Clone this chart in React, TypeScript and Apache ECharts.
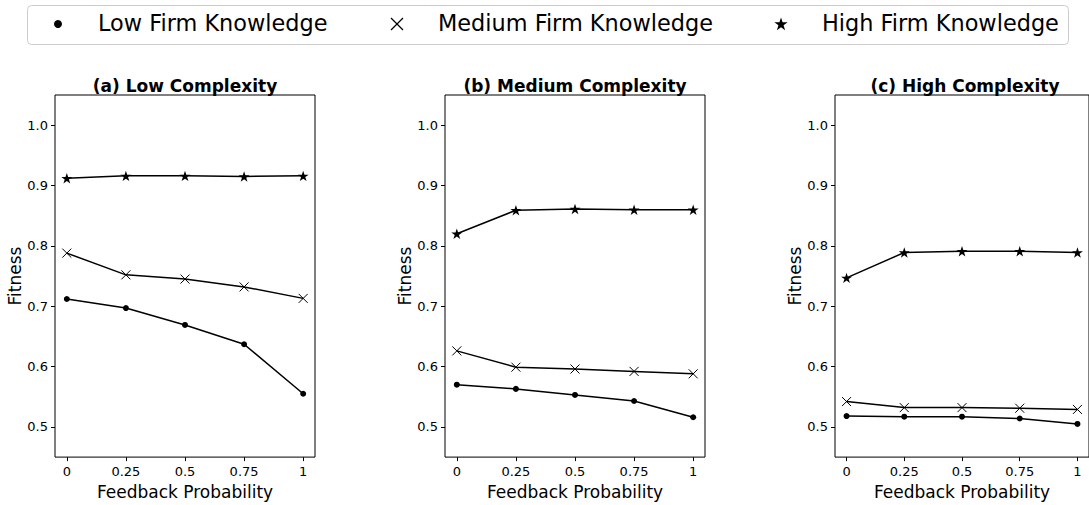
import React, { useEffect, useRef } from "react";
import * as echarts from "echarts";

const feedbackProbability = [0, 0.25, 0.5, 0.75, 1];
const xTickValues = [0, 0.25, 0.5, 0.75, 1];
const yTickValues = [0.5, 0.6, 0.7, 0.8, 0.9, 1.0];
const panelTitles = ["(a) Low Complexity", "(b) Medium Complexity", "(c) High Complexity"];
const seriesNames = ["Low Firm Knowledge", "Medium Firm Knowledge", "High Firm Knowledge"];

// (a) Low complexity
const lowCxLowKnowledge = [0.712, 0.697, 0.669, 0.637, 0.555];
const lowCxMediumKnowledge = [0.788, 0.752, 0.745, 0.732, 0.713];
const lowCxHighKnowledge = [0.912, 0.916, 0.916, 0.915, 0.916];
// (b) Medium complexity
const medCxLowKnowledge = [0.570, 0.563, 0.553, 0.543, 0.516];
const medCxMediumKnowledge = [0.626, 0.599, 0.596, 0.592, 0.588];
const medCxHighKnowledge = [0.820, 0.859, 0.861, 0.860, 0.860];
// (c) High complexity
const highCxLowKnowledge = [0.518, 0.517, 0.517, 0.514, 0.505];
const highCxMediumKnowledge = [0.542, 0.532, 0.532, 0.531, 0.529];
const highCxHighKnowledge = [0.747, 0.789, 0.791, 0.791, 0.789];

const panels = [
  [lowCxLowKnowledge, lowCxMediumKnowledge, lowCxHighKnowledge],
  [medCxLowKnowledge, medCxMediumKnowledge, medCxHighKnowledge],
  [highCxLowKnowledge, highCxMediumKnowledge, highCxHighKnowledge],
];

const FONT = "DejaVu Sans";
const STAR =
  "path://M50,0L61.23,34.55L97.55,34.55L68.17,55.9L79.39,90.45L50,69.1L20.61,90.45L31.83,55.9L2.45,34.55L38.77,34.55Z";
const CROSS = "path://M0,0L10,10M10,0L0,10";

const symbolStyles = [
  { symbol: "circle", symbolSize: 6, itemStyle: { color: "#000", borderWidth: 0 } },
  { symbol: CROSS, symbolSize: 9, itemStyle: { color: "#000", borderColor: "#000", borderWidth: 1 } },
  { symbol: STAR, symbolSize: 11, itemStyle: { color: "#000", borderWidth: 0 } },
];

const gridLefts = [55, 445, 835];
const GRID_TOP = 95;
const GRID_W = 260;
const GRID_H = 369;

function starPoints(cx: number, cy: number, R: number): number[][] {
  const pts: number[][] = [];
  const r = R * 0.382;
  for (let i = 0; i < 10; i++) {
    const a = (-90 + i * 36) * (Math.PI / 180);
    const rad = i % 2 === 0 ? R : r;
    pts.push([cx + rad * Math.cos(a), cy + rad * Math.sin(a)]);
  }
  return pts;
}

export default function App() {
  const ref = useRef<HTMLDivElement>(null);

  useEffect(() => {
    if (!ref.current) return;
    const chart = echarts.init(ref.current, undefined, { renderer: "svg" });

    const grids = gridLefts.map((left) => ({
      left,
      top: GRID_TOP,
      width: GRID_W,
      height: GRID_H,
      show: true,
      borderColor: "#000",
      borderWidth: 1,
      backgroundColor: "transparent",
    }));

    const xAxes = gridLefts.map((_, i) => ({
      type: "value",
      gridIndex: i,
      min: -0.05,
      max: 1.05,
      splitLine: { show: false },
      axisLine: { show: false, onZero: false },
      axisTick: {
        show: true,
        customValues: xTickValues,
        length: 4,
        lineStyle: { color: "#000", width: 1 },
      },
      axisLabel: {
        customValues: xTickValues,
        formatter: (v: number) => String(v),
        color: "#000",
        fontFamily: FONT,
        fontSize: 13,
        margin: 8,
      },
      name: "Feedback Probability",
      nameLocation: "middle",
      nameGap: 20,
      nameTextStyle: { color: "#000", fontFamily: FONT, fontSize: 17, verticalAlign: "top" },
    }));

    const yAxes = gridLefts.map((_, i) => ({
      type: "value",
      gridIndex: i,
      min: 0.45,
      max: 1.05,
      splitLine: { show: false },
      axisLine: { show: false, onZero: false },
      axisTick: {
        show: true,
        customValues: yTickValues,
        length: 4,
        lineStyle: { color: "#000", width: 1 },
      },
      axisLabel: {
        customValues: yTickValues,
        formatter: (v: number) => v.toFixed(1),
        color: "#000",
        fontFamily: FONT,
        fontSize: 13,
        margin: 7,
      },
      name: "Fitness",
      nameLocation: "middle",
      nameGap: 28,
      nameTextStyle: { color: "#000", fontFamily: FONT, fontSize: 17 },
    }));

    const series: any[] = [];
    panels.forEach((panel, p) => {
      panel.forEach((values, s) => {
        series.push({
          type: "line",
          name: seriesNames[s],
          xAxisIndex: p,
          yAxisIndex: p,
          data: feedbackProbability.map((x, k) => [x, values[k]]),
          lineStyle: { color: "#000", width: 1.5 },
          ...symbolStyles[s],
          symbolKeepAspect: true,
          showSymbol: true,
          z: 3,
        });
      });
    });

    const titles = panelTitles.map((text, i) => ({
      text,
      left: gridLefts[i] + GRID_W / 2,
      top: 77,
      textAlign: "center",
      padding: 0,
      textStyle: { fontFamily: FONT, fontSize: 17, fontWeight: "bold", color: "#000" },
    }));

    const legendY = 23;
    const legendFont = { fontFamily: FONT, fontSize: 22.4, fill: "#000" };
    const graphic: any[] = [
      {
        type: "rect",
        shape: { x: 27.5, y: 5.5, width: 1041, height: 39, r: 4 },
        style: { fill: "#fff", stroke: "#cccccc", lineWidth: 1 },
        z: 10,
      },
      { type: "circle", shape: { cx: 58, cy: legendY + 1, r: 4 }, style: { fill: "#000" }, z: 11 },
      {
        type: "line",
        shape: { x1: 391, y1: legendY - 5, x2: 403, y2: legendY + 7 },
        style: { stroke: "#000", lineWidth: 1.2 },
        z: 11,
      },
      {
        type: "line",
        shape: { x1: 403, y1: legendY - 5, x2: 391, y2: legendY + 7 },
        style: { stroke: "#000", lineWidth: 1.2 },
        z: 11,
      },
      {
        type: "polygon",
        shape: { points: starPoints(781, legendY + 1.5, 7) },
        style: { fill: "#000" },
        z: 11,
      },
      {
        type: "text",
        x: 98,
        y: legendY,
        style: { text: seriesNames[0], ...legendFont, verticalAlign: "middle", align: "left" },
        z: 11,
      },
      {
        type: "text",
        x: 438,
        y: legendY,
        style: { text: seriesNames[1], ...legendFont, verticalAlign: "middle", align: "left" },
        z: 11,
      },
      {
        type: "text",
        x: 822,
        y: legendY,
        style: { text: seriesNames[2], ...legendFont, verticalAlign: "middle", align: "left" },
        z: 11,
      },
    ];

    chart.setOption({
      animation: false,
      backgroundColor: "#fff",
      title: titles,
      grid: grids,
      xAxis: xAxes,
      yAxis: yAxes,
      series,
      graphic,
    });

    return () => chart.dispose();
  }, []);

  return (
    <div
      ref={ref}
      style={{ position: "fixed", left: 0, top: 0, width: 1089, height: 505, background: "#fff" }}
    />
  );
}
